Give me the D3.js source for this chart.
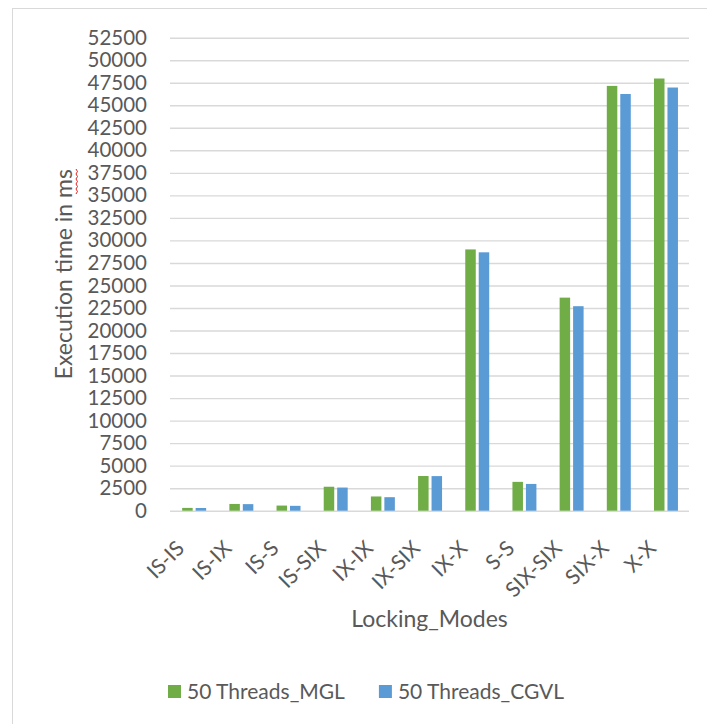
<!DOCTYPE html>
<html>
<head>
<meta charset="utf-8">
<script src="https://cdn.jsdelivr.net/npm/d3@7"></script>
<style>
  html, body { margin: 0; padding: 0; background: #fff; }
  svg { display: block; }
  text { font-family: Lato, "Open Sans", sans-serif; fill: #595959; }
</style>
</head>
<body>
<svg id="chart" width="707" height="724"></svg>
<script>
// Execution time per locking-mode pair, 50 threads
const categories = ["IS-IS", "IS-IX", "IS-S", "IS-SIX", "IX-IX", "IX-SIX", "IX-X", "S-S", "SIX-SIX", "SIX-X", "X-X"];
const seriesNames = ["50 Threads_MGL", "50 Threads_CGVL"];
const mglValues = [310, 750, 570, 2660, 1580, 3850, 29000, 3200, 23650, 47150, 47970];
const cgvlValues = [300, 730, 540, 2570, 1500, 3840, 28680, 2970, 22700, 46250, 46970];
const yTickValues = d3.range(0, 52501, 2500);
const yTitle = "Execution time in ms";
const xTitle = "Locking_Modes";
const colors = ["#70AD47", "#5B9BD5"];

const svg = d3.select("#chart");

// chart frame (left and top edges fall inside the canvas)
svg.append("rect")
  .attr("x", 12.5).attr("y", 8.5)
  .attr("width", 760).attr("height", 760)
  .attr("fill", "none").attr("stroke", "#d9d9d9").attr("stroke-width", 1);

const plot = { left: 170, right: 689, top: 37.7, bottom: 510.7 };

const x = d3.scaleBand().domain(categories).range([plot.left, plot.right]);
const xs = d3.scaleBand().domain([0, 1])
  .range([x.bandwidth() * 0.258, x.bandwidth() * 0.766])
  .paddingInner(0.22);
const y = d3.scaleLinear().domain([0, 52500]).range([plot.bottom, plot.top]);

// y axis with gridlines
const yAxis = svg.append("g")
  .attr("transform", `translate(${plot.left},0)`)
  .call(d3.axisLeft(y).tickValues(yTickValues).tickFormat(d3.format("d"))
    .tickSize(-(plot.right - plot.left)).tickPadding(23));
yAxis.select(".domain").remove();
yAxis.selectAll(".tick line").attr("stroke", "#d9d9d9").attr("stroke-width", 1.4);
yAxis.selectAll(".tick text")
  .style("font-family", "Lato, 'Open Sans', sans-serif")
  .style("font-size", "20.5px").attr("fill", "#595959");

// bars
const rows = categories.map((c, i) => ({ cat: c, vals: [mglValues[i], cgvlValues[i]] }));
const groups = svg.append("g").selectAll("g").data(rows).join("g")
  .attr("transform", d => `translate(${x(d.cat)},0)`);
groups.selectAll("rect").data(d => d.vals.map((v, k) => ({ k, v }))).join("rect")
  .attr("x", d => xs(d.k))
  .attr("width", xs.bandwidth())
  .attr("y", d => y(d.v))
  .attr("height", d => y(0) - y(d.v))
  .attr("fill", d => colors[d.k]);

// x axis labels, rotated
const xAxis = svg.append("g")
  .attr("transform", `translate(0,${plot.bottom})`)
  .call(d3.axisBottom(x).tickSize(0));
xAxis.select(".domain").remove();
xAxis.selectAll(".tick text")
  .style("font-family", "Lato, 'Open Sans', sans-serif")
  .style("font-size", "21px").attr("fill", "#595959")
  .attr("text-anchor", "end")
  .attr("x", 0).attr("y", 0).attr("dy", null)
  .attr("transform", "translate(-8,39) rotate(-45)");

// axis titles
const yTitleText = svg.append("text")
  .attr("transform", `translate(72,${(plot.top + plot.bottom) / 2}) rotate(-90)`)
  .attr("text-anchor", "middle")
  .style("font-size", "23px")
  .text(yTitle);

svg.append("text")
  .attr("x", (plot.left + plot.right) / 2).attr("y", 627)
  .attr("text-anchor", "middle")
  .style("font-size", "23px")
  .text(xTitle);

// spell-check squiggle under "ms"
{
  const bb = yTitleText.node().getBBox();
  const half = (plot.top + plot.bottom) / 2;
  const topY = half - bb.width / 2;
  const pts = [];
  for (let i = 0; i <= 10; i++) pts.push([76 + (i % 2 ? 1.5 : 0), topY + i * 2.5]);
  svg.append("path").attr("d", d3.line()(pts))
    .attr("fill", "none").attr("stroke", "#e02020").attr("stroke-width", 1);
}

// legend
const legend = svg.append("g").attr("transform", "translate(168,692)");
let lx = 0;
seriesNames.forEach((name, k) => {
  legend.append("rect").attr("x", lx).attr("y", -7).attr("width", 13).attr("height", 13).attr("fill", colors[k]);
  const t = legend.append("text").attr("x", lx + 19).attr("y", 0).attr("dy", "0.35em")
    .style("font-size", "21px").text(name);
  lx += 19 + t.node().getComputedTextLength() + 34;
});
</script>
</body>
</html>
